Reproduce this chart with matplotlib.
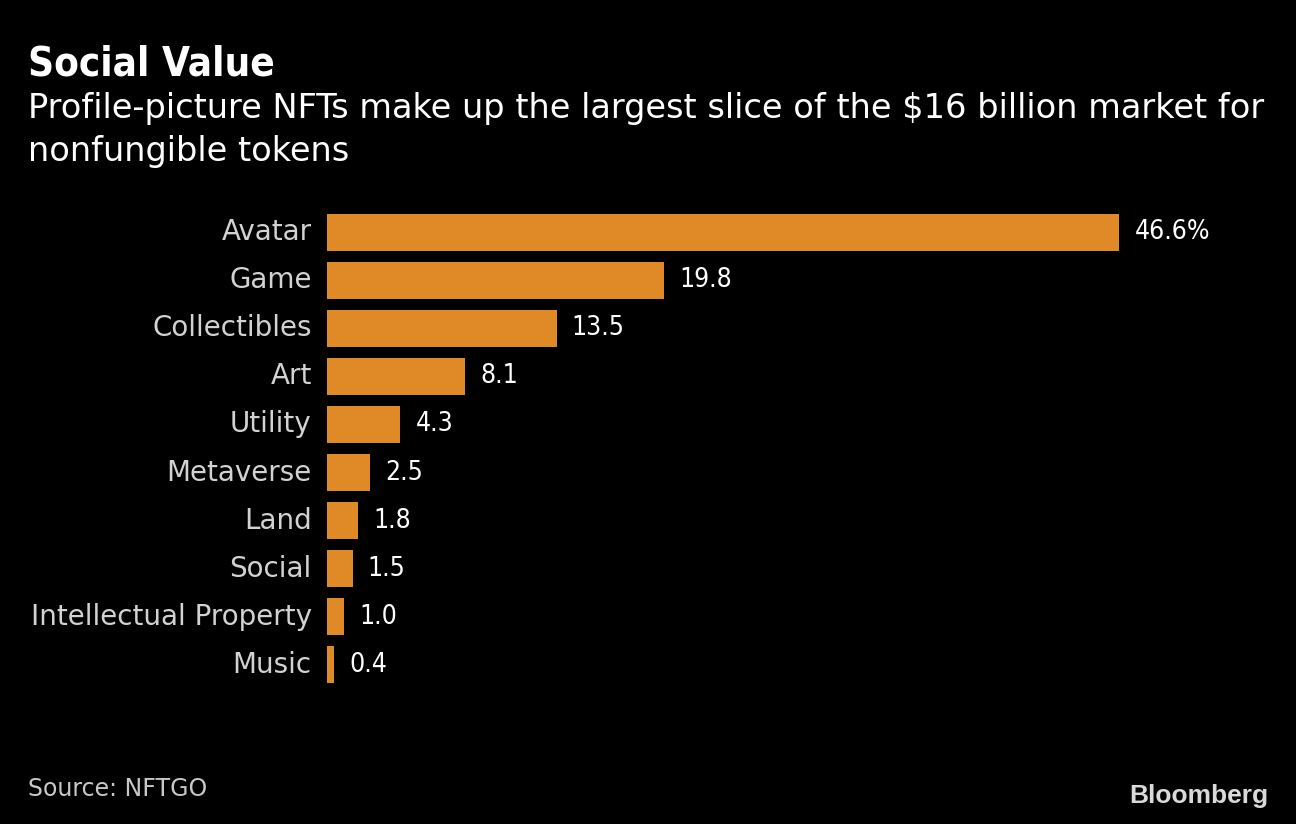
import matplotlib.pyplot as plt

categories = ["Avatar", "Game", "Collectibles", "Art", "Utility", "Metaverse",
              "Land", "Social", "Intellectual Property", "Music"]
shares = [46.6, 19.8, 13.5, 8.1, 4.3, 2.5, 1.8, 1.5, 1.0, 0.4]
value_labels = ["46.6%", "19.8", "13.5", "8.1", "4.3", "2.5", "1.8", "1.5", "1.0", "0.4"]

bar_color = "#df8a26"
W, H = 1296, 824

fig = plt.figure(figsize=(W / 100, H / 100), dpi=100, facecolor="black")
plt.rcParams["font.family"] = ["DejaVu Sans"]

# axes placed so x=0 sits at 327px and 46.6 ends at ~1119px
left, right = 327, 327 + 50 * 17.0
top, bottom = 208, 689
ax = fig.add_axes([left / W, 1 - bottom / H, (right - left) / W, (bottom - top) / H])
ax.set_facecolor("black")

y = range(len(categories))
ax.barh(y, shares, height=0.77, color=bar_color)
ax.set_xlim(0, 50)
ax.set_ylim(len(categories) - 0.5, -0.5)
ax.set_xticks([])
ax.set_yticks(list(y))
ax.set_yticklabels(categories, fontsize=20, color="#d2d2d2", va="center")
ax.tick_params(axis="y", length=0, pad=11)
for s in ax.spines.values():
    s.set_visible(False)

for i, (v, lab) in enumerate(zip(shares, value_labels)):
    ax.annotate(lab, (v, i), xytext=(11, 0), textcoords="offset points",
                va="center", ha="left", fontsize=19, stretch="condensed",
                color="white")

fig.text(28 / W, 1 - 75 / H, "Social Value", fontsize=29, fontweight="bold",
         stretch="condensed", color="white", va="baseline", ha="left")
fig.text(28 / W, 1 - 118 / H,
         "Profile-picture NFTs make up the largest slice of the $16 billion market for",
         fontsize=24.2, color="white", va="baseline", ha="left")
fig.text(28 / W, 1 - 161 / H, "nonfungible tokens",
         fontsize=24.2, color="white", va="baseline", ha="left")
fig.text(28 / W, 1 - 796 / H, "Source: NFTGO", fontsize=17, color="#c8c8c8",
         va="baseline", ha="left")
fig.text(1268 / W, 1 - 803 / H, "Bloomberg", fontsize=19, fontweight="bold",
         family="Liberation Sans", color="#d9d9d9", va="baseline", ha="right")

fig.savefig("out.png", dpi=100, facecolor="black")
